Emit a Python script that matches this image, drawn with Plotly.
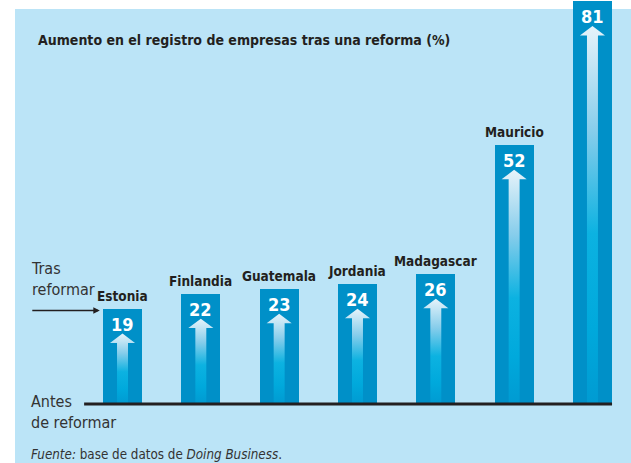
import plotly.graph_objects as go

# data
paises = ["Estonia", "Finlandia", "Guatemala", "Jordania", "Madagascar", "Mauricio", ""]
aumento = [19, 22, 23, 24, 26, 52, 81]

titulo = "Aumento en el registro de empresas tras una reforma (%)"
fuente = "<i>Fuente:</i> base de datos de <i>Doing Business</i>."

W, H = 631, 463
FONT = "DejaVu Sans Condensed"
azul_barra = "#0090c8"
fondo = "#bbe4f7"

xs = list(range(len(aumento)))

fig = go.Figure()
fig.add_trace(go.Bar(x=xs, y=aumento, width=0.5, marker=dict(color=azul_barra, line=dict(width=0)),
                     hoverinfo="skip", showlegend=False))

# white-to-cyan arrows inside each bar
grad = [[0, "#009bd2"], [0.2, "#00a9dc"], [0.45, "#0cb2e1"], [0.72, "#86cdeb"], [1, "#e6f3fa"]]
for i, v in zip(xs, aumento):
    tip = v - 5.0
    hb = tip - 1.9
    sw, hw = 0.07, 0.16
    px = [i - sw, i - sw, i - hw, i, i + hw, i + sw, i + sw, i - sw]
    py = [0, hb, hb, tip, hb, hb, 0, 0]
    fig.add_trace(go.Scatter(x=px, y=py, mode="lines", fill="toself", line=dict(width=0),
                             fillgradient=dict(type="vertical", colorscale=grad),
                             hoverinfo="skip", showlegend=False))

ann = []
for i, (p, v) in enumerate(zip(paises, aumento)):
    ann.append(dict(x=i, y=v, text=f"<b>{v}</b>", showarrow=False, yanchor="top", yshift=-3,
                    font=dict(family=FONT, size=18, color="white")))
    if p:
        ann.append(dict(x=i, y=v, text=f"<b>{p}</b>", showarrow=False, yanchor="bottom", yshift=3,
                        font=dict(family=FONT, size=13.5, color="#231f20")))

# "Tras reformar" pointer arrow
ann.append(dict(x=-0.29, y=aumento[0] - 0.35, ax=-69, ay=0, text="", showarrow=True,
                arrowhead=2, arrowsize=1, arrowwidth=1.3, arrowcolor="#231f20"))

txt = dict(family=FONT, size=16, color="#333333")
ann += [
    dict(x=36 / W, y=1 - 40 / H, xref="paper", yref="paper", xanchor="left", yanchor="middle",
         text=f"<b>{titulo}</b>", showarrow=False, font=dict(family=FONT, size=14, color="#231f20")),
    dict(x=29 / W, y=1 - 279 / H, xref="paper", yref="paper", xanchor="left", yanchor="middle",
         text="Tras<br>reformar", align="left", showarrow=False, font=txt),
    dict(x=29 / W, y=1 - 412 / H, xref="paper", yref="paper", xanchor="left", yanchor="middle",
         text="Antes<br>de reformar", align="left", showarrow=False, font=txt),
    dict(x=29 / W, y=1 - 454 / H, xref="paper", yref="paper", xanchor="left", yanchor="middle",
         text=fuente, showarrow=False, font=dict(family=FONT, size=13.3, color="#333333")),
]

shapes = [
    dict(type="rect", xref="paper", yref="paper", x0=15 / W, x1=1, y0=0, y1=1 - 9 / H,
         fillcolor=fondo, line=dict(width=0), layer="below"),
    dict(type="line", xref="x", yref="y", x0=-0.49, x1=6.25, y0=-0.2, y1=-0.2,
         line=dict(color="#231f20", width=3)),
]

fig.update_layout(
    width=W, height=H,
    margin=dict(l=0, r=0, t=0, b=0),
    paper_bgcolor="white", plot_bgcolor="rgba(0,0,0,0)",
    xaxis=dict(range=[-1.564, 6.492], visible=False, fixedrange=True),
    yaxis=dict(range=[-12.1, 81.25], visible=False, fixedrange=True),
    annotations=ann, shapes=shapes, bargap=0,
)

fig.write_html("out.html", config={"displayModeBar": False},
               post_script="document.body.style.margin='0';document.body.style.overflow='hidden';")
